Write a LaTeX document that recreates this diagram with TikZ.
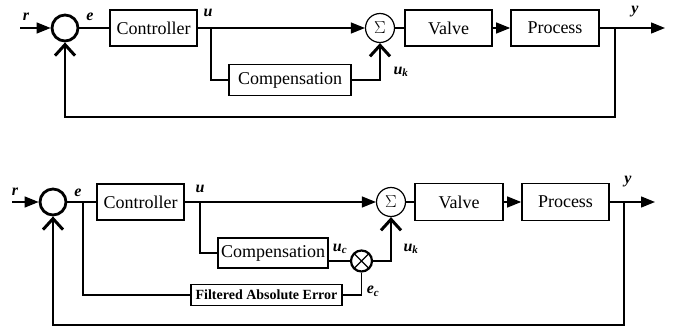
\documentclass[tikz,border=0pt]{standalone}
\usepackage{fontspec}
\setmainfont{Liberation Serif}
\usetikzlibrary{positioning,arrows.meta}
\tikzset{
  blk/.style={draw, line width=1.7pt, minimum height=36pt, inner sep=0pt,
              font=\fontsize{18}{20}\selectfont},
  sumc/.style={draw, circle, line width=2.8pt, minimum size=26pt, inner sep=0pt},
  sigc/.style={draw, circle, line width=1.2pt, minimum size=29pt, inner sep=0pt,
               font=\fontsize{19}{20}\selectfont},
  mulc/.style={draw, circle, line width=2.2pt, minimum size=21pt, inner sep=0pt,
               path picture={\draw[line width=1.4pt]
                 (path picture bounding box.north west) -- (path picture bounding box.south east)
                 (path picture bounding box.north east) -- (path picture bounding box.south west);}},
  ln/.style={line width=1.4pt},
  ar/.style={ln, -{Triangle[length=14pt,width=11pt]}},
  arb/.style={ln, -{Straight Barb[length=11pt,width=20pt,line width=3pt]}},
  lbl/.style={font=\fontsize{16}{18}\selectfont\bfseries\itshape, inner sep=0pt},
}
\newcommand{\lsub}[2]{#1\textsubscript{\fontsize{11}{12}\selectfont #2}}

\begin{document}
\begin{tikzpicture}[x=1pt, y=-1pt]
  \useasboundingbox (0,0) rectangle (675,329);

  % plain compensation loop
  \node[sumc] (sum1) at (65,28) {};
  \node[blk, minimum width=87pt] (ctrl1) at (153.5,28) {Controller};
  \node[blk, minimum width=122pt, minimum height=31pt] (comp1) at (290,80) {Compensation};
  \node[sigc] (sig1) at (380,28) {$\Sigma$};
  \node[blk, minimum width=87pt] (valve1) at (448.5,28) {Valve};
  \node[blk, minimum width=88pt] (proc1) at (555,28) {Process};
  \coordinate (in1) at (20,28);
  \coordinate (u1) at (211,28);
  \coordinate (fb1) at (615,28);
  \coordinate (out1) at (665,28);

  \draw[ar] (in1) -- (sum1);
  \draw[ln] (sum1) -- (ctrl1);
  \draw[ar] (ctrl1) -- (sig1);
  \draw[ln] (u1) |- (comp1.west);
  \draw[arb] (comp1.east) -| (sig1.south);
  \draw[ln] (sig1) -- (valve1);
  \draw[ar] (valve1) -- (proc1);
  \draw[ar] (proc1) -- (out1);
  \draw[arb] (fb1) -- ++(0,89) -| (sum1.south);

  \node[lbl] at (26,17) {r};
  \node[lbl] at (90,17) {e};
  \node[lbl] at (208,13) {u};
  \node[lbl] at (401,72) {\lsub{u}{k}};
  \node[lbl] at (635,12) {y};

  % compensation scaled by the filtered error
  \node[sumc] (sum2) at (53,202) {};
  \node[blk, minimum width=87pt] (ctrl2) at (140.5,202) {Controller};
  \node[blk, minimum width=110pt, minimum height=30pt] (comp2) at (273,253) {Compensation};
  \node[mulc] (mul2) at (361.5,261) {};
  \node[blk, minimum width=151pt, minimum height=21pt,
        font=\fontsize{14}{16}\selectfont\bfseries] (fae2) at (266.5,295) {Filtered Absolute Error};
  \node[sigc] (sig2) at (391,202) {$\Sigma$};
  \node[blk, minimum width=88pt, minimum height=37pt] (valve2) at (459,202) {Valve};
  \node[blk, minimum width=87pt, minimum height=37pt] (proc2) at (565.5,202) {Process};
  \coordinate (in2) at (12,202);
  \coordinate (e2) at (83,202);
  \coordinate (u2) at (200,202);
  \coordinate (fb2) at (624,202);
  \coordinate (out2) at (655,202);

  \draw[ar] (in2) -- (sum2);
  \draw[ln] (sum2) -- (ctrl2);
  \draw[ar] (ctrl2) -- (sig2);
  \draw[ln] (u2) |- (comp2.west);
  \draw[ln] (comp2.east |- mul2) -- (mul2);
  \draw[ln] (e2) |- (fae2.west);
  \draw[ln] (fae2.east) -| (mul2.south);
  \draw[arb] (mul2.east) -| (sig2.south);
  \draw[ln] (sig2) -- (valve2);
  \draw[ar] (valve2) -- (proc2);
  \draw[ar] (proc2) -- (out2);
  \draw[arb] (fb2) -- ++(0,123) -| (sum2.south);

  \node[lbl] at (15,192) {r};
  \node[lbl] at (78,193) {e};
  \node[lbl] at (200,189) {u};
  \node[lbl] at (340,249) {\lsub{u}{c}};
  \node[lbl] at (411,249) {\lsub{u}{k}};
  \node[lbl] at (373,291) {\lsub{e}{c}};
  \node[lbl] at (628,182) {y};
\end{tikzpicture}
\end{document}
